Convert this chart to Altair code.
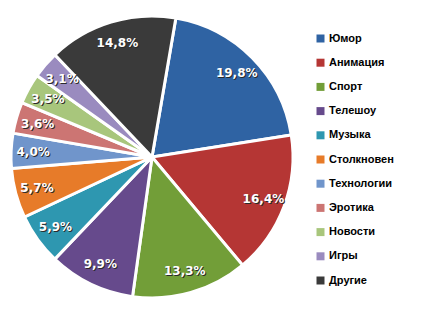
import math
import altair as alt
import pandas as pd

categories = ["Юмор", "Анимация", "Спорт", "Телешоу", "Музыка", "Столкновен",
              "Технологии", "Эротика", "Новости", "Игры", "Другие"]
values = [19.8, 16.4, 13.3, 9.9, 5.9, 5.7, 4.0, 3.6, 3.5, 3.1, 14.8]
labels = ["19,8%", "16,4%", "13,3%", "9,9%", "5,9%", "5,7%",
          "4,0%", "3,6%", "3,5%", "3,1%", "14,8%"]
colors = ["#2F63A3", "#B53634", "#729E38", "#664A8C", "#2E97B0", "#E77B29",
          "#7095CB", "#CC7573", "#A8C67C", "#9A8BBF", "#3A3A3A"]

df = pd.DataFrame({"cat": categories, "val": values, "label": labels,
                   "idx": list(range(len(categories)))})

start = 0.17
theta = alt.Theta("val:Q", stack=True,
                  scale=alt.Scale(range=[start, start + 2 * math.pi]))
order = alt.Order("idx:Q", sort="ascending")

base = alt.Chart(df).encode(theta=theta, order=order,
                            x=alt.value(152), y=alt.value(157))

color = alt.Color(
    "cat:N",
    sort=categories,
    scale=alt.Scale(domain=categories, range=colors),
    legend=alt.Legend(
        title=None, orient="none", legendX=315, legendY=33,
        symbolType="square", symbolSize=64, symbolStrokeWidth=0,
        labelFont="Liberation Sans", labelFontSize=11, labelFontWeight="bold",
        labelColor="black", rowPadding=12.2, labelOffset=3,
    ),
)

pie = base.mark_arc(outerRadius=141, stroke="white", strokeWidth=3).encode(color=color)

shadow = base.mark_text(radius=119, font="DejaVu Sans", fontSize=12, fontWeight="bold",
                        color="#2a2a2a", dx=1, dy=1).encode(text="label:N")
text = base.mark_text(radius=119, font="DejaVu Sans", fontSize=12, fontWeight="bold",
                      color="white").encode(text="label:N")

chart = alt.layer(pie, shadow, text).properties(
    width=423, height=327,
    autosize=alt.AutoSizeParams(type="none"),
    padding=0,
).configure_view(stroke=None)

chart.save("out.html", embed_options={"renderer": "svg", "actions": False})
